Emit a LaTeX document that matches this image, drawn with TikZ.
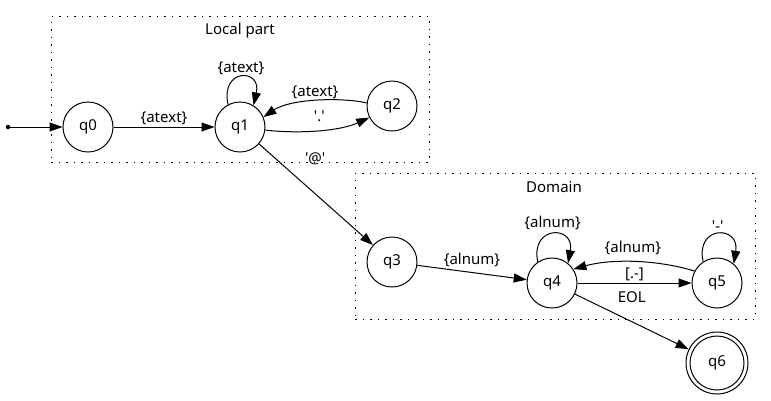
\documentclass[tikz,border=0pt]{standalone}
\usepackage{fontspec}
\setmainfont{Noto Sans}
\usetikzlibrary{arrows.meta}
\newcommand{\sq}{\textquotesingle}
\begin{document}
\begin{tikzpicture}[x=1pt,y=-1pt,
  every node/.style={font=\fontsize{15}{17}\selectfont},
  state/.style={circle,draw,line width=1pt,minimum size=50pt,inner sep=0pt},
  ring/.style={circle,draw,line width=1pt,minimum size=62pt,inner sep=0pt},
  edge/.style={line width=1pt,-{Triangle[length=13pt,width=9pt]}},
  cluster/.style={draw,line width=1pt,dash pattern=on 1.5pt off 6pt,inner sep=0pt},
  lbl/.style={inner sep=2pt}]
\useasboundingbox[fill=white] (0,0) rectangle (771,400);
% clusters
\node[cluster,minimum width=378pt,minimum height=146pt] (local) at (240,89) {};
\node (localtitle) at (240,31) {Local part};
\node[cluster,minimum width=400pt,minimum height=146pt] (domain) at (555,246) {};
\node (domaintitle) at (554,187) {Domain};
% states
\node[circle,fill,inner sep=0pt,minimum size=4.5pt] (start) at (8,127) {};
\node[state] (q0) at (88,127) {q0};
\node[state] (q1) at (240,127) {q1};
\node[state] (q2) at (392,106) {q2};
\node[state] (q3) at (392,262) {q3};
\node[state] (q4) at (552,283) {q4};
\node[state] (q5) at (717,283) {q5};
\node[state,minimum size=54pt] (q6) at (717,363) {q6};
\node[ring] (q6ring) at (q6) {};
% edges
\draw[edge] (start) -- (q0);
\draw[edge] (q0) -- node[above,lbl] {\{atext\}} (q1);
\draw[edge] (q1.118) .. controls (220,68) and (262,68) .. (q1.58)
  node[pos=0.5,above,lbl] {\{atext\}};
\draw[edge] (q2.173) .. controls (340,97) and (290,99) .. (q1.23)
  node[pos=0.5,above,lbl] {\{atext\}};
\draw[edge] (q1.-7) .. controls (300,134) and (340,131) .. (q2.207)
  node[pos=0.5,above=6pt,lbl] {\sq.\sq};
\draw[edge] (q1) -- (q3)
  node[pos=0.3,xshift=22pt,yshift=15pt,lbl] {\sq@\sq};
\draw[edge] (q3) -- node[above=3pt,lbl] {\{alnum\}} (q4);
\draw[edge] (q4.124) .. controls (530,225) and (575,225) .. (q4.51)
  node[pos=0.5,above=2pt,lbl] {\{alnum\}};
\draw[edge] (q5.152) .. controls (655,259) and (610,259) .. (q4.33)
  node[pos=0.5,above=4pt,lbl] {\{alnum\}};
\draw[edge] (q4) -- node[above,lbl] {[.-]} (q5);
\draw[edge] (q5.123) .. controls (695,225) and (740,225) .. (q5.49)
  node[pos=0.5,above,lbl] {\sq-\sq};
\draw[edge] (q4) -- node[above=17pt,lbl] {EOL} (q6ring);
\end{tikzpicture}
\end{document}
